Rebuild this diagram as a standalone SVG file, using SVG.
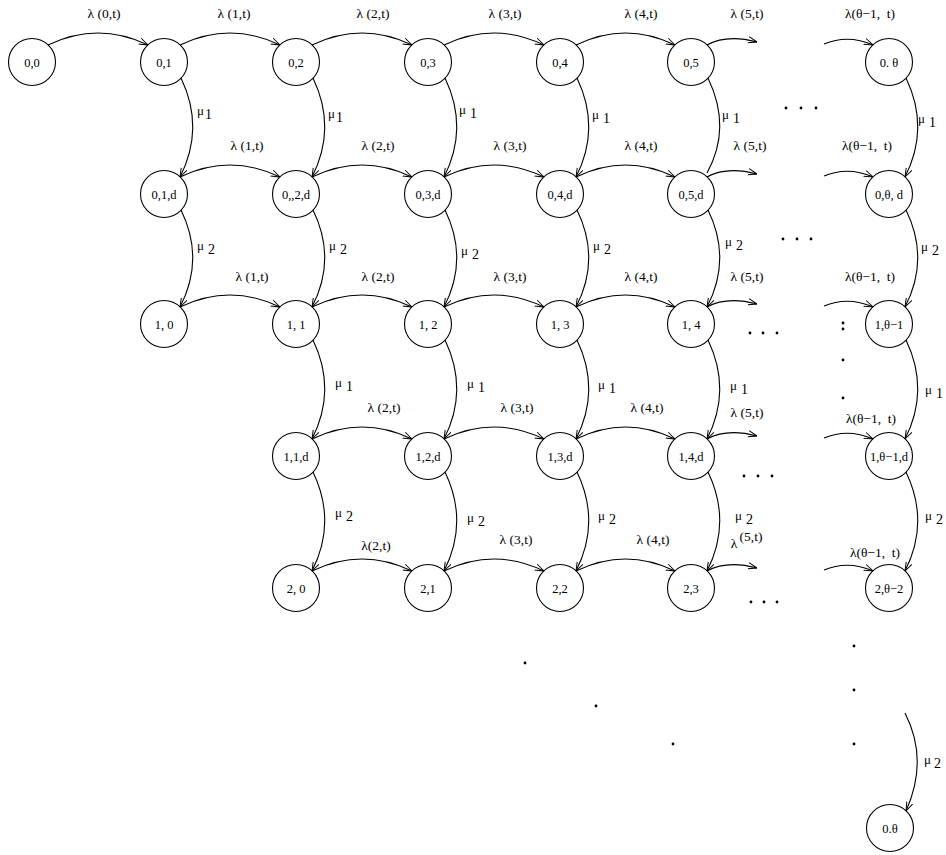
<svg xmlns="http://www.w3.org/2000/svg" width="946" height="855" viewBox="0 0 946 855">
<style>
.n circle{fill:#fff;stroke:#000;stroke-width:1.1}
.n text{font-family:"Liberation Serif","DejaVu Serif",serif;font-size:12.5px;text-anchor:middle;fill:#000;white-space:pre}
.e path{fill:none;stroke:#000;stroke-width:1.1}
.a{marker-end:url(#ah)}
.lb{font-family:"Liberation Serif","DejaVu Serif",serif;font-size:13.5px;text-anchor:middle;fill:#000;white-space:pre}
.mu{font-family:"Liberation Serif","DejaVu Serif",serif;font-size:13px;fill:#000}
.sub{font-size:14px}
.dot{fill:#000}
</style>
<defs>
<marker id="ah" viewBox="0 0 10 10" refX="10" refY="5" markerWidth="9" markerHeight="9" markerUnits="userSpaceOnUse" orient="auto">
<path d="M0,1.5 L10,5 L0,8.5" fill="none" stroke="#000" stroke-width="1.1"/>
</marker>
</defs>
<g id="connectors" class="e">
<path class="a" d="M48,45 Q98,21 148,45"/>
<path class="a" d="M180,45 Q230,21 280,45"/>
<path class="a" d="M312,45 Q362,21 412,45"/>
<path class="a" d="M444,45 Q494,21 544,45"/>
<path class="a" d="M576,45 Q625.5,21 675,45"/>
<path class="a" d="M707,45 Q727,34 757,42"/>
<path class="a" d="M824,44 Q848,34 873,45"/>
<path class="a" d="M180,177 Q230,153 280,177"/>
<path class="a" d="M312,177 Q362,153 412,177"/>
<path class="a" d="M444,177 Q494,153 544,177"/>
<path class="a" d="M576,177 Q625.5,153 675,177"/>
<path class="a" d="M707,177 Q727,166 757,174"/>
<path class="a" d="M824,176 Q848,166 873,177"/>
<path class="a" d="M180,307 Q230,283 280,307"/>
<path class="a" d="M312,307 Q362,283 412,307"/>
<path class="a" d="M444,307 Q494,283 544,307"/>
<path class="a" d="M576,307 Q625.5,283 675,307"/>
<path class="a" d="M707,307 Q727,296 757,304"/>
<path class="a" d="M824,306 Q848,296 873,307"/>
<path class="a" d="M312,439 Q362,415 412,439"/>
<path class="a" d="M444,439 Q494,415 544,439"/>
<path class="a" d="M576,439 Q625.5,415 675,439"/>
<path class="a" d="M707,439 Q727,428 757,436"/>
<path class="a" d="M824,438 Q848,428 873,439"/>
<path class="a" d="M312,571 Q362,547 412,571"/>
<path class="a" d="M444,571 Q494,547 544,571"/>
<path class="a" d="M576,571 Q625.5,547 675,571"/>
<path class="a" d="M707,571 Q727,560 757,568"/>
<path class="a" d="M824,570 Q848,560 873,571"/>
<path class="a" d="M181,78 Q205,128 180,177"/>
<path class="a" d="M313,78 Q337,128 312,177"/>
<path class="a" d="M445,78 Q469,128 444,177"/>
<path class="a" d="M577,78 Q601,128 576,177"/>
<path d="M708,78 Q732,128 707,173"/>
<path class="a" d="M906,78 Q930,128 905,177"/>
<path class="a" d="M181,210 Q205,259 180,307"/>
<path class="a" d="M313,210 Q337,259 312,307"/>
<path class="a" d="M445,210 Q469,259 444,307"/>
<path class="a" d="M577,210 Q601,259 576,307"/>
<path class="a" d="M708,210 Q732,259 707,307"/>
<path class="a" d="M906,210 Q930,259 905,307"/>
<path class="a" d="M313,340 Q337,390 312,439"/>
<path class="a" d="M445,340 Q469,390 444,439"/>
<path class="a" d="M577,340 Q601,390 576,439"/>
<path class="a" d="M708,340 Q732,390 707,439"/>
<path class="a" d="M906,340 Q930,390 905,439"/>
<path class="a" d="M313,472 Q337,522 312,571"/>
<path class="a" d="M445,472 Q469,522 444,571"/>
<path class="a" d="M577,472 Q601,522 576,571"/>
<path class="a" d="M708,472 Q732,522 707,571"/>
<path class="a" d="M906,472 Q930,522 905,571"/>
<path class="a" d="M905,713 Q929,760 906,811"/>
</g>
<g id="edge-labels">
<text class="lb" x="104" y="18">λ (0,t)</text>
<text class="lb" x="234" y="18">λ (1,t)</text>
<text class="lb" x="373" y="18">λ (2,t)</text>
<text class="lb" x="505" y="18">λ (3,t)</text>
<text class="lb" x="641" y="18">λ (4,t)</text>
<text class="lb" x="747" y="18">λ (5,t)</text>
<text class="lb" x="870" y="18">λ(θ−1,  t)</text>
<text class="lb" x="247" y="150">λ (1,t)</text>
<text class="lb" x="378" y="150">λ (2,t)</text>
<text class="lb" x="510" y="150">λ (3,t)</text>
<text class="lb" x="641" y="150">λ (4,t)</text>
<text class="lb" x="750" y="150">λ (5,t)</text>
<text class="lb" x="867" y="150">λ(θ−1,  t)</text>
<text class="lb" x="252" y="281">λ (1,t)</text>
<text class="lb" x="378" y="281">λ (2,t)</text>
<text class="lb" x="510" y="281">λ (3,t)</text>
<text class="lb" x="641" y="281">λ (4,t)</text>
<text class="lb" x="747" y="281">λ (5,t)</text>
<text class="lb" x="870" y="281">λ(θ−1,  t)</text>
<text class="lb" x="384" y="412">λ (2,t)</text>
<text class="lb" x="517" y="412">λ (3,t)</text>
<text class="lb" x="647" y="412">λ (4,t)</text>
<text class="lb" x="747" y="417">λ (5,t)</text>
<text class="lb" x="871" y="423">λ(θ−1,  t)</text>
<text class="lb" x="376" y="550">λ(2,t)</text>
<text class="lb" x="516" y="544">λ (3,t)</text>
<text class="lb" x="653" y="544">λ (4,t)</text>
<text class="lb" x="734" y="548">λ</text>
<text class="lb" x="751" y="541">(5,t)</text>
<text class="lb" x="875" y="557">λ(θ−1,  t)</text>
<text class="mu" x="197" y="115">μ<tspan class="sub" dx="1" dy="4">1</tspan></text>
<text class="mu" x="328" y="118">μ<tspan class="sub" dx="1" dy="4">1</tspan></text>
<text class="mu" x="459" y="114">μ<tspan class="sub" dx="4" dy="4">1</tspan></text>
<text class="mu" x="592" y="119">μ<tspan class="sub" dx="4" dy="4">1</tspan></text>
<text class="mu" x="722" y="119">μ<tspan class="sub" dx="4" dy="4">1</tspan></text>
<text class="mu" x="918" y="123">μ<tspan class="sub" dx="4" dy="4">1</tspan></text>
<text class="mu" x="197" y="250">μ<tspan class="sub" dx="4" dy="4">2</tspan></text>
<text class="mu" x="329" y="250">μ<tspan class="sub" dx="4" dy="4">2</tspan></text>
<text class="mu" x="461" y="255">μ<tspan class="sub" dx="4" dy="4">2</tspan></text>
<text class="mu" x="593" y="250">μ<tspan class="sub" dx="4" dy="4">2</tspan></text>
<text class="mu" x="725" y="246">μ<tspan class="sub" dx="4" dy="4">2</tspan></text>
<text class="mu" x="921" y="251">μ<tspan class="sub" dx="4" dy="4">2</tspan></text>
<text class="mu" x="335" y="387">μ<tspan class="sub" dx="4" dy="4">1</tspan></text>
<text class="mu" x="467" y="388">μ<tspan class="sub" dx="4" dy="4">1</tspan></text>
<text class="mu" x="598" y="389">μ<tspan class="sub" dx="4" dy="4">1</tspan></text>
<text class="mu" x="730" y="390">μ<tspan class="sub" dx="4" dy="4">1</tspan></text>
<text class="mu" x="925" y="394">μ<tspan class="sub" dx="4" dy="4">1</tspan></text>
<text class="mu" x="335" y="517">μ<tspan class="sub" dx="4" dy="4">2</tspan></text>
<text class="mu" x="467" y="522">μ<tspan class="sub" dx="4" dy="4">2</tspan></text>
<text class="mu" x="598" y="520">μ<tspan class="sub" dx="4" dy="4">2</tspan></text>
<text class="mu" x="735" y="520">μ<tspan class="sub" dx="4" dy="4">2</tspan></text>
<text class="mu" x="925" y="520">μ<tspan class="sub" dx="4" dy="4">2</tspan></text>
<text class="mu" x="924" y="764">μ<tspan class="sub" dx="3" dy="4">2</tspan></text>
</g>
<g id="dots" class="dot">
<circle cx="786" cy="108" r="1.4"/><circle cx="801" cy="108" r="1.4"/><circle cx="816" cy="108" r="1.4"/>
<circle cx="783" cy="239" r="1.4"/><circle cx="797" cy="239" r="1.4"/><circle cx="811" cy="239" r="1.4"/>
<circle cx="750" cy="333" r="1.4"/><circle cx="763" cy="333" r="1.4"/><circle cx="777" cy="333" r="1.4"/>
<circle cx="843" cy="323" r="1.4"/><circle cx="843" cy="329" r="1.4"/>
<circle cx="843" cy="360" r="1.4"/><circle cx="843" cy="398" r="1.4"/>
<circle cx="744" cy="476" r="1.4"/><circle cx="758" cy="476" r="1.4"/><circle cx="772" cy="476" r="1.4"/>
<circle cx="751" cy="602" r="1.4"/><circle cx="764" cy="602" r="1.4"/><circle cx="777" cy="602" r="1.4"/>
<circle cx="525" cy="663" r="1.4"/><circle cx="596" cy="706" r="1.4"/><circle cx="673" cy="744" r="1.4"/>
<circle cx="854" cy="646" r="1.4"/><circle cx="854" cy="690" r="1.4"/><circle cx="854" cy="744" r="1.4"/>
</g>
<g id="n00" class="n"><circle cx="32" cy="62" r="23.5"/><text x="32" y="66.5">0,0</text></g>
<g id="n01" class="n"><circle cx="164" cy="62" r="23.5"/><text x="164" y="66.5">0,1</text></g>
<g id="n02" class="n"><circle cx="296" cy="62" r="23.5"/><text x="296" y="66.5">0,2</text></g>
<g id="n03" class="n"><circle cx="428" cy="62" r="23.5"/><text x="428" y="66.5">0,3</text></g>
<g id="n04" class="n"><circle cx="560" cy="62" r="23.5"/><text x="560" y="66.5">0,4</text></g>
<g id="n05" class="n"><circle cx="691" cy="62" r="23.5"/><text x="691" y="66.5">0,5</text></g>
<g id="n0t" class="n"><circle cx="889" cy="62" r="23.5"/><text x="889" y="66.5">0. θ</text></g>
<g id="n01d" class="n"><circle cx="164" cy="194" r="23.5"/><text x="164" y="198.5">0,1,d</text></g>
<g id="n02d" class="n"><circle cx="296" cy="194" r="23.5"/><text x="296" y="198.5">0,,2,d</text></g>
<g id="n03d" class="n"><circle cx="428" cy="194" r="23.5"/><text x="428" y="198.5">0,3,d</text></g>
<g id="n04d" class="n"><circle cx="560" cy="194" r="23.5"/><text x="560" y="198.5">0,4,d</text></g>
<g id="n05d" class="n"><circle cx="691" cy="194" r="23.5"/><text x="691" y="198.5">0,5,d</text></g>
<g id="n0td" class="n"><circle cx="889" cy="194" r="23.5"/><text x="889" y="198.5">0,θ, d</text></g>
<g id="n10" class="n"><circle cx="164" cy="324" r="23.5"/><text x="164" y="328.5">1, 0</text></g>
<g id="n11" class="n"><circle cx="296" cy="324" r="23.5"/><text x="296" y="328.5">1, 1</text></g>
<g id="n12" class="n"><circle cx="428" cy="324" r="23.5"/><text x="428" y="328.5">1, 2</text></g>
<g id="n13" class="n"><circle cx="560" cy="324" r="23.5"/><text x="560" y="328.5">1, 3</text></g>
<g id="n14" class="n"><circle cx="691" cy="324" r="23.5"/><text x="691" y="328.5">1, 4</text></g>
<g id="n1t" class="n"><circle cx="889" cy="324" r="23.5"/><text x="889" y="328.5">1,θ−1</text></g>
<g id="n11d" class="n"><circle cx="296" cy="456" r="23.5"/><text x="296" y="460.5">1,1,d</text></g>
<g id="n12d" class="n"><circle cx="428" cy="456" r="23.5"/><text x="428" y="460.5">1,2,d</text></g>
<g id="n13d" class="n"><circle cx="560" cy="456" r="23.5"/><text x="560" y="460.5">1,3,d</text></g>
<g id="n14d" class="n"><circle cx="691" cy="456" r="23.5"/><text x="691" y="460.5">1,4,d</text></g>
<g id="n1td" class="n"><circle cx="889" cy="456" r="23.5"/><text x="889" y="460.5">1,θ−1,d</text></g>
<g id="n20" class="n"><circle cx="296" cy="588" r="23.5"/><text x="296" y="592.5">2, 0</text></g>
<g id="n21" class="n"><circle cx="428" cy="588" r="23.5"/><text x="428" y="592.5">2,1</text></g>
<g id="n22" class="n"><circle cx="560" cy="588" r="23.5"/><text x="560" y="592.5">2,2</text></g>
<g id="n23" class="n"><circle cx="691" cy="588" r="23.5"/><text x="691" y="592.5">2,3</text></g>
<g id="n2t" class="n"><circle cx="889" cy="588" r="23.5"/><text x="889" y="592.5">2,θ−2</text></g>
<g id="n0tb" class="n"><circle cx="890" cy="828" r="23.5"/><text x="890" y="832.5">0.θ</text></g>
</svg>
